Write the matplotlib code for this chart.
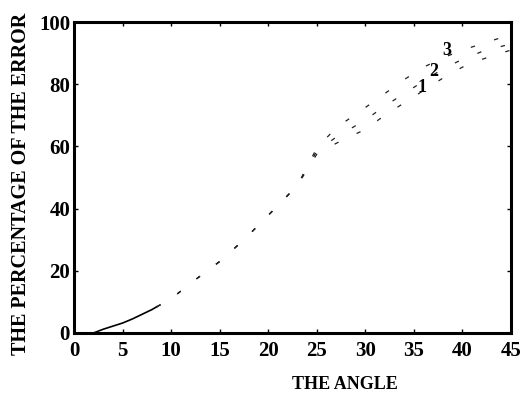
import matplotlib
matplotlib.use("Agg")
import matplotlib.pyplot as plt

plt.rcParams['font.family'] = ['Liberation Serif', 'DejaVu Serif']
plt.rcParams['font.weight'] = 'bold'

# shared lower part of the three curves (near solid in the scan)
angle_low = [2, 3, 4, 5, 6, 7, 8, 8.5]
err_low = [0, 1.2, 2.2, 3.2, 4.5, 6.0, 7.5, 8.4]

# upper part, where the curves separate
angle = [8.5, 10, 12, 15, 17.5, 21, 23, 25, 27, 30, 32, 34, 36, 38, 40, 42, 45]
curve1 = [8.4, 11, 16, 23, 30, 41, 47.5, 57.5, 61, 65.5, 70, 74, 78, 82, 85.5, 88, 91]
curve2 = [8.4, 11, 16, 23, 30, 41, 47.5, 58.5, 63, 68.5, 73, 77, 81, 85, 88, 90.5, 93]
curve3 = [8.4, 11, 16, 23, 30, 41, 47.5, 59.5, 66, 72.5, 77, 81.5, 85.5, 88.5, 91, 93, 96]

curve_names = ["1", "2", "3"]
name_pos = [(35.8, 79), (37.0, 84), (38.4, 91)]

fig = plt.figure(figsize=(5.3, 4.09), dpi=100)
ax = fig.add_axes([0.140, 0.186, 0.824, 0.760])

ax.plot(angle_low, err_low, color='black', linewidth=1.2)
for ys in (curve1, curve2, curve3):
    ax.plot(angle, ys, color='#222222', linewidth=0.9, linestyle=(0, (3.5, 16)))

for name, (x, y) in zip(curve_names, name_pos):
    ax.text(x, y, name, fontsize=13, fontweight='bold', ha='center', va='center')

ax.set_xlim(0, 45)
ax.set_ylim(0, 100)
ax.set_xticks(range(0, 46, 5))
ax.set_yticks(range(0, 101, 20))
ax.tick_params(direction='in', top=True, right=True, length=3, width=1,
               labelsize=15)
ax.tick_params(axis='x', pad=6)
ax.tick_params(axis='y', pad=3)
for s in ax.spines.values():
    s.set_linewidth(2.2)

ax.set_xlabel("THE ANGLE", fontsize=13, fontweight='bold')
ax.xaxis.set_label_coords(0.62, -0.14)
ax.set_ylabel("THE PERCENTAGE OF THE ERROR", fontsize=14.5, fontweight='bold')
ax.yaxis.set_label_coords(-0.10, 0.48)

fig.savefig("out.png", dpi=100)
